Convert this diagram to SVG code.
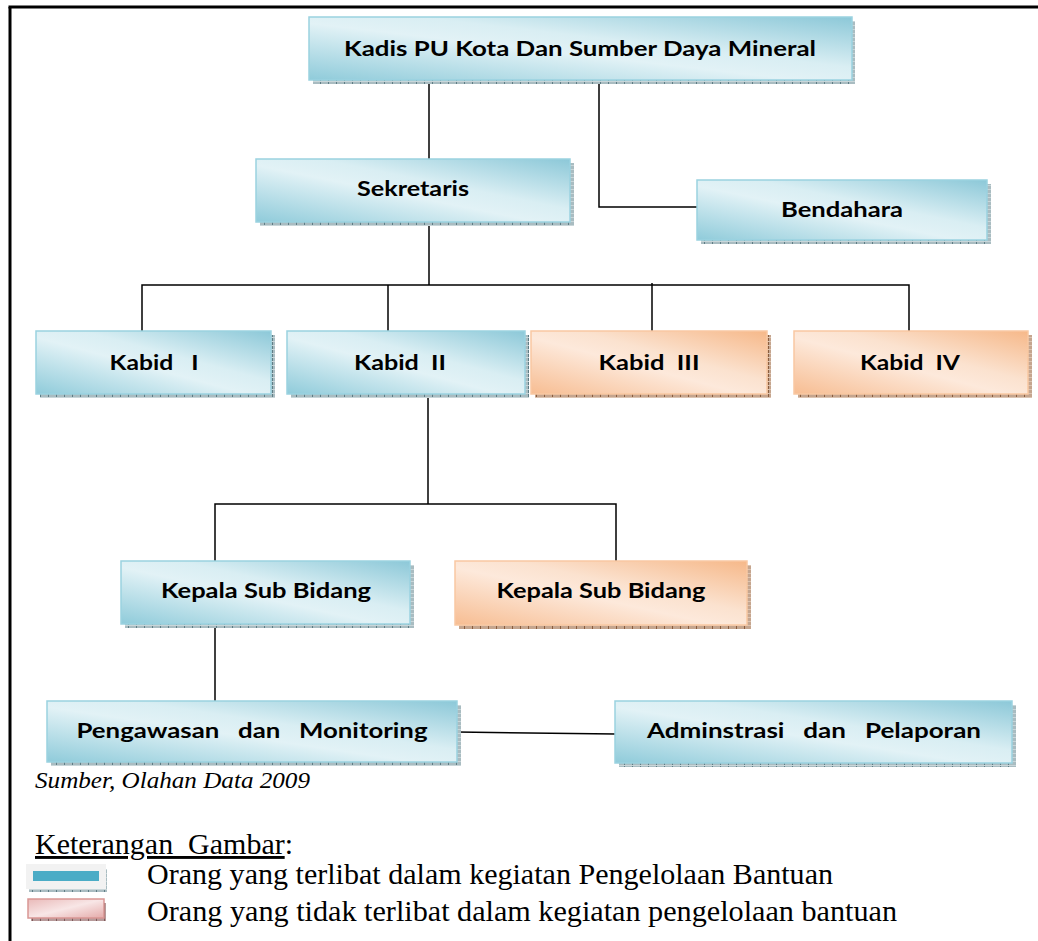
<svg xmlns="http://www.w3.org/2000/svg" width="1038" height="941" viewBox="0 0 1038 941">
<defs>
<linearGradient id="gb" x1="0" y1="1" x2="1" y2="0">
<stop offset="0" stop-color="#8fcbda"/>
<stop offset="0.45" stop-color="#e2f2f6"/>
<stop offset="0.6" stop-color="#d9eef3"/>
<stop offset="1" stop-color="#8cc8d8"/>
</linearGradient>
<linearGradient id="go" x1="0" y1="1" x2="1" y2="0">
<stop offset="0" stop-color="#f7bd92"/>
<stop offset="0.45" stop-color="#fde9db"/>
<stop offset="0.6" stop-color="#fbe2cf"/>
<stop offset="1" stop-color="#f6b889"/>
</linearGradient>
<linearGradient id="gp" x1="0" y1="0" x2="1" y2="1">
<stop offset="0" stop-color="#e9b9b8"/>
<stop offset="0.5" stop-color="#f8e6e6"/>
<stop offset="1" stop-color="#e4aaa9"/>
</linearGradient>
<pattern id="pb" width="8" height="4" patternUnits="userSpaceOnUse">
<rect width="8" height="4" fill="#a9bcc1"/>
<rect x="0" y="0" width="1" height="4" fill="#5f7d85"/>
<rect x="0" y="1" width="8" height="1" fill="#c9d6d9"/>
</pattern>
<pattern id="po" width="8" height="4" patternUnits="userSpaceOnUse">
<rect width="8" height="4" fill="#c5a58e"/>
<rect x="0" y="0" width="1" height="4" fill="#8a5d3e"/>
<rect x="0" y="1" width="8" height="1" fill="#dcc4b2"/>
</pattern>
<pattern id="pp" width="8" height="4" patternUnits="userSpaceOnUse">
<rect width="8" height="4" fill="#b79a9a"/>
<rect x="0" y="0" width="1" height="4" fill="#7d5a5a"/>
</pattern>
</defs>
<style>
.sb{fill:url(#pb)}
.so{fill:url(#po)}
.nb{fill:url(#gb);stroke:#9ad2e0;stroke-width:1.5}
.no{fill:url(#go);stroke:#f9c8a2;stroke-width:1.5}
.t{font-family:Lato,"Open Sans","Liberation Sans",sans-serif;font-weight:bold;font-size:21px;fill:#000;text-anchor:middle;white-space:pre}
.c{fill:none;stroke:#000;stroke-width:1.5}
.tr{font-family:"Liberation Serif","Times New Roman",serif;fill:#000;white-space:pre}
</style>
<g id="frame">
<line x1="10" y1="7" x2="10" y2="941" stroke="#000" stroke-width="3"/>
<line x1="8.5" y1="7" x2="1038" y2="7" stroke="#000" stroke-width="3"/>
</g>
<g id="connectors">
<polyline class="c" points="429,80 429,159"/>
<polyline class="c" points="599,80 599,207 697,207"/>
<polyline class="c" points="429,222 429,285"/>
<polyline class="c" points="142,331 142,285 909,285 909,331"/>
<polyline class="c" points="388,285 388,331"/>
<polyline class="c" points="652,283 652,331"/>
<polyline class="c" points="428,394 428,504"/>
<polyline class="c" points="215,561 215,504 616,504 616,561"/>
<polyline class="c" points="215,624 215,701"/>
<polyline class="c" points="457,732 615,734"/>
</g>
<g id="kadis">
<rect class="sb" x="313" y="21" width="542" height="63"/>
<rect class="nb" x="309" y="17" width="543" height="63"/>
<text class="t" x="580" y="56" textLength="472" lengthAdjust="spacingAndGlyphs">Kadis PU Kota Dan Sumber Daya Mineral</text>
</g>
<g id="sekretaris">
<rect class="sb" x="260" y="163" width="314" height="63"/>
<rect class="nb" x="256" y="159" width="314" height="63"/>
<text class="t" x="413" y="196" textLength="112" lengthAdjust="spacingAndGlyphs">Sekretaris</text>
</g>
<g id="bendahara">
<rect class="sb" x="701" y="184" width="290" height="60"/>
<rect class="nb" x="697" y="180" width="290" height="60"/>
<text class="t" x="842" y="217" textLength="122" lengthAdjust="spacingAndGlyphs">Bendahara</text>
</g>
<g id="kabid1">
<rect class="sb" x="40" y="335" width="235" height="63"/>
<rect class="nb" x="36" y="331" width="235" height="63"/>
<text class="t" x="154" y="370" textLength="89" lengthAdjust="spacingAndGlyphs">Kabid   I</text>
</g>
<g id="kabid2">
<rect class="sb" x="291" y="335" width="238" height="63"/>
<rect class="nb" x="287" y="331" width="238" height="63"/>
<text class="t" x="400" y="370" textLength="92" lengthAdjust="spacingAndGlyphs">Kabid  II</text>
</g>
<g id="kabid3">
<rect class="so" x="535" y="335" width="236" height="63"/>
<rect class="no" x="531" y="331" width="236" height="63"/>
<text class="t" x="649" y="370" textLength="101" lengthAdjust="spacingAndGlyphs">Kabid  III</text>
</g>
<g id="kabid4">
<rect class="so" x="798" y="335" width="234" height="63"/>
<rect class="no" x="794" y="331" width="234" height="63"/>
<text class="t" x="910" y="370" textLength="100" lengthAdjust="spacingAndGlyphs">Kabid  IV</text>
</g>
<g id="kasubid1">
<rect class="sb" x="125" y="565" width="289" height="63"/>
<rect class="nb" x="121" y="561" width="289" height="63"/>
<text class="t" x="266" y="598" textLength="210" lengthAdjust="spacingAndGlyphs">Kepala Sub Bidang</text>
</g>
<g id="kasubid2">
<rect class="so" x="459" y="565" width="292" height="64"/>
<rect class="no" x="455" y="561" width="292" height="64"/>
<text class="t" x="601" y="598" textLength="209" lengthAdjust="spacingAndGlyphs">Kepala Sub Bidang</text>
</g>
<g id="pengawasan">
<rect class="sb" x="51" y="705" width="410" height="61"/>
<rect class="nb" x="47" y="701" width="410" height="61"/>
<text class="t" x="252" y="738" textLength="351" lengthAdjust="spacingAndGlyphs">Pengawasan   dan   Monitoring</text>
</g>
<g id="adminstrasi">
<rect class="sb" x="619" y="705" width="397" height="62"/>
<rect class="nb" x="615" y="701" width="397" height="62"/>
<text class="t" x="814" y="738" textLength="334" lengthAdjust="spacingAndGlyphs">Adminstrasi   dan   Pelaporan</text>
</g>
<g id="notes">
<text class="tr" x="35" y="788" font-size="24" font-style="italic" textLength="275" lengthAdjust="spacingAndGlyphs">Sumber, Olahan Data 2009</text>
<text class="tr" x="35" y="854" font-size="29" textLength="258" lengthAdjust="spacingAndGlyphs"><tspan text-decoration="underline">Keterangan  Gambar</tspan>:</text>
<rect x="29" y="869" width="78" height="23" fill="url(#pb)"/>
<rect x="26" y="864" width="80" height="25" fill="#f2f2f2"/>
<rect x="33" y="871" width="66" height="10" fill="#4bacc6"/>
<rect x="31" y="903" width="75" height="18" fill="url(#pp)"/>
<rect x="28" y="899" width="76" height="19" fill="url(#gp)" stroke="#d99694" stroke-width="1.5"/>
<text class="tr" x="147" y="884" font-size="29" textLength="686" lengthAdjust="spacingAndGlyphs">Orang yang terlibat dalam kegiatan Pengelolaan Bantuan</text>
<text class="tr" x="147" y="921" font-size="29" textLength="750" lengthAdjust="spacingAndGlyphs">Orang yang tidak terlibat dalam kegiatan pengelolaan bantuan</text>
</g>
</svg>
